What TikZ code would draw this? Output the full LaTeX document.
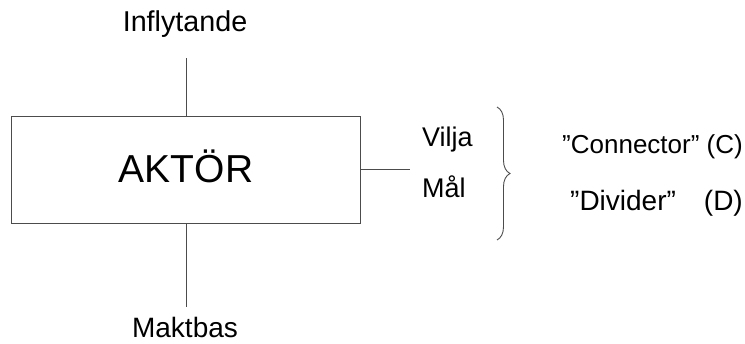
\documentclass[tikz,border=0pt]{standalone}
\usepackage{fontspec}
\setmainfont{Liberation Sans}
\usetikzlibrary{decorations.pathreplacing}
\begin{document}
\begin{tikzpicture}[x=1pt,y=-1pt,
  lbl/.style={inner sep=0pt,font=\fontsize{#1}{32}\selectfont},
  lbl/.default=28,
  big/.style={inner sep=0pt,font=\fontsize{39}{46}\selectfont},
  ln/.style={draw=black!70,line width=0.9pt}]
\useasboundingbox (0,0) rectangle (745,344);
\node[ln,minimum width=349pt,minimum height=107pt,inner sep=0pt,anchor=north west] (box) at (11,116) {};
\node[big,anchor=base] (akt) at (186,183) {AKTÖR};
\node[lbl=28.7,anchor=base] (inf) at (185,32) {Inflytande};
\node[lbl=28,anchor=base] (mak) at (185,338) {Maktbas};
\coordinate (topend) at (box.north |- 0,58);
\coordinate (botend) at (box.south |- 0,307);
\coordinate (rend) at (410,0 |- box.east);
\draw[ln] (box.north) -- (topend);
\draw[ln] (box.south) -- (botend);
\draw[ln] (box.east) -- (rend);
\node[lbl=27,anchor=base west] (vil) at (422,147) {Vilja};
\node[lbl=27,anchor=base west] (mal) at (422,198) {Mål};
\coordinate (btop) at (497,107);
\coordinate (bbot) at (497,240);
\draw[ln,decorate,decoration={brace,amplitude=13pt}] (btop) -- (bbot);
\node[lbl=26,anchor=base east] (con) at (743,154) {”Connector” (C)};
\node[lbl=28,anchor=base west] (div) at (570,211) {”Divider”};
\node[lbl=28,anchor=base east] (dd) at (743,211) {(D)};
\end{tikzpicture}
\end{document}
